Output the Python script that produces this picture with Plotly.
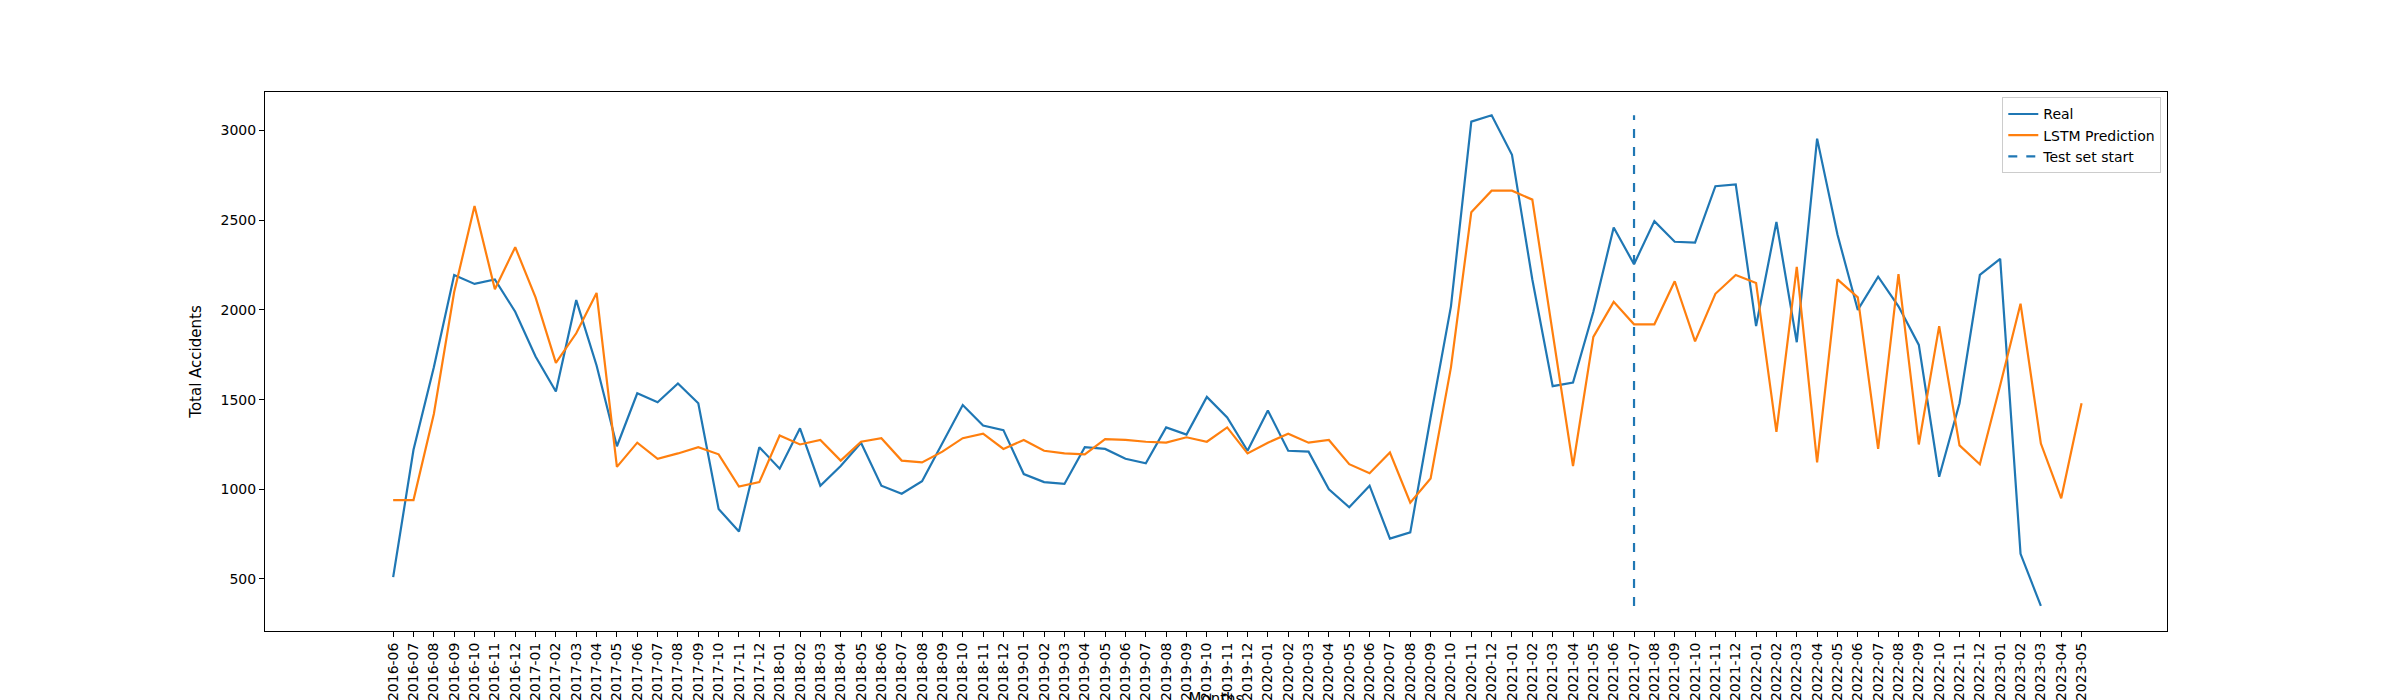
import pandas as pd
import plotly.graph_objects as go

months = pd.period_range("2016-06", "2023-05", freq="M").strftime("%Y-%m").tolist()

real = [510, 1220, 1680, 2195, 2145, 2170, 1990,
        1740, 1545, 2055, 1690, 1240, 1535, 1485, 1590, 1480, 890, 765, 1235,
        1115, 1340, 1020, 1130, 1260, 1020, 975, 1045, 1255, 1470, 1355, 1330,
        1085, 1040, 1030, 1235, 1225, 1170, 1145, 1345, 1305, 1515, 1400, 1215,
        1440, 1215, 1210, 1000, 900, 1020, 725, 760, 1400, 2020, 3050, 3085,
        2865, 2170, 1575, 1595, 1990, 2460, 2255, 2495, 2380, 2375, 2690, 2700,
        1910, 2490, 1820, 2955, 2420, 2000, 2185, 2020, 1805, 1070, 1480, 2195,
        2285, 640, 350]

lstm = [940, 940, 1420, 2100, 2580, 2115, 2350,
        2070, 1705, 1870, 2095, 1125, 1260, 1170, 1200, 1235, 1195, 1015, 1040,
        1300, 1250, 1275, 1160, 1265, 1285, 1160, 1150, 1210, 1285, 1310, 1225,
        1275, 1215, 1200, 1195, 1280, 1275, 1265, 1260, 1290, 1265, 1345, 1200,
        1260, 1310, 1260, 1275, 1140, 1090, 1205, 925, 1060, 1680, 2545, 2665,
        2665, 2615, 1860, 1130, 1850, 2045, 1920, 1920, 2160, 1825, 2090, 2195,
        2150, 1320, 2240, 1150, 2170, 2070, 1225, 2200, 1250, 1910, 1245, 1140,
        1580, 2035, 1255, 950, 1480]

test_start = "2021-07"

fig = go.Figure()
fig.add_trace(go.Scatter(x=months[:len(real)], y=real, mode="lines", name="Real",
                         line=dict(color="#1f77b4", width=2.2)))
fig.add_trace(go.Scatter(x=months, y=lstm, mode="lines", name="LSTM Prediction",
                         line=dict(color="#ff7f0e", width=2.2)))
fig.add_trace(go.Scatter(x=[test_start, test_start], y=[min(real), max(real)], mode="lines",
                         name="Test set start", line=dict(color="#1f77b4", width=2.2, dash="dash")))

axis = dict(showgrid=False, zeroline=False, showline=True, linecolor="black", mirror=True,
            ticks="outside", ticklen=5, tickcolor="black", tickfont=dict(size=14, color="black"),
            automargin=False)
fig.update_layout(
    width=2400, height=700, plot_bgcolor="white", paper_bgcolor="white",
    font=dict(family="DejaVu Sans", color="black"),
    margin=dict(l=257, r=241, t=84, b=77),
    xaxis=dict(axis, type="category", tickangle=-90, range=[-6.3, 87.2],
               title=dict(text="Months", font=dict(size=15), standoff=4)),
    yaxis=dict(axis, range=[210, 3215], tickvals=[500, 1000, 1500, 2000, 2500, 3000],
               title=dict(text="Total Accidents", font=dict(size=15))),
    legend=dict(x=0.997, y=0.99, xanchor="right", yanchor="top", bgcolor="white",
                bordercolor="#cccccc", borderwidth=1, font=dict(size=14)),
)
fig.write_html("out.html")
